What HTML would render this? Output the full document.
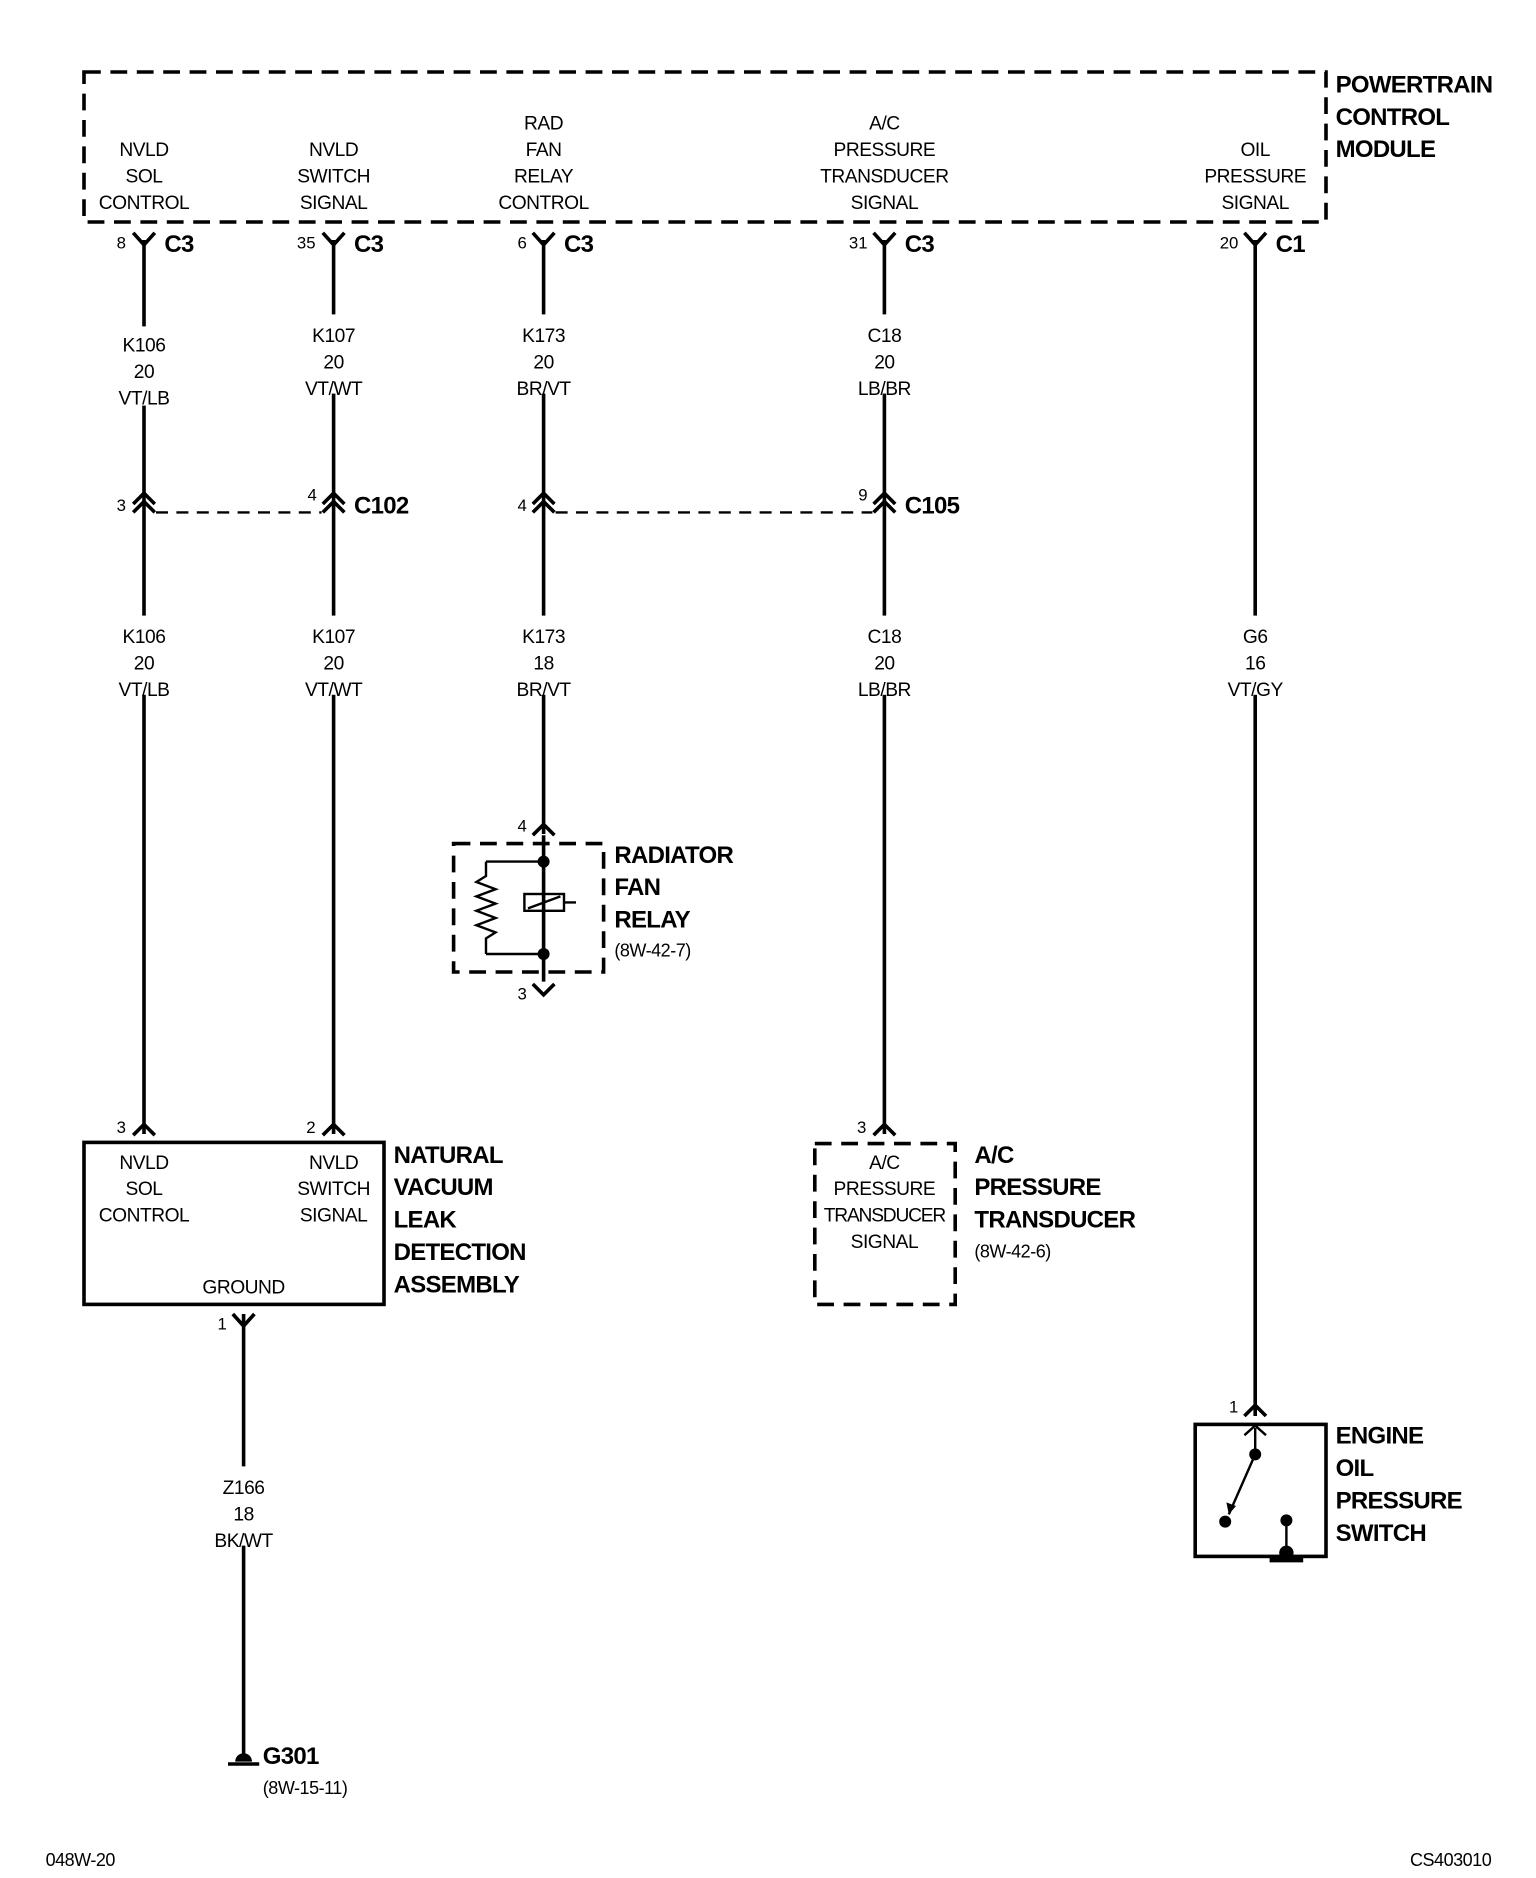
<!DOCTYPE html>
<html><head><meta charset="utf-8"><style>
html,body{margin:0;padding:0;background:#fff}
svg{display:block}
text{font-family:"Liberation Sans",sans-serif;fill:#000}
.s{font-size:16px;text-anchor:middle;letter-spacing:-0.4px}
.p{font-size:14px;text-anchor:end}
.b{font-size:20px;font-weight:bold;letter-spacing:-0.6px}
</style></head><body>
<svg width="1536" height="1878" viewBox="0 0 1280 1565" xmlns="http://www.w3.org/2000/svg">
<g fill="none" stroke="#000" stroke-width="3">
<rect x="70" y="60" width="1035" height="125" stroke-dasharray="14,8"/>
<path d="M120 200V945M278 200V945M453 200V695M737 200V945M1046 200V1180M203 1095V1462"/>
<path d="M111 194L120 204L129 194M269 194L278 204L287 194M444 194L453 204L462 194M728 194L737 204L746 194M1037 194L1046 204L1055 194"/>
<path d="M111 420L120 411L129 420M111 427L120 418L129 427M269 420L278 411L287 420M269 427L278 418L287 427M444 420L453 411L462 420M444 427L453 418L462 427M728 420L737 411L746 420M728 427L737 418L746 427"/>
<path d="M130 427H268M463 427H727" stroke-width="2" stroke-dasharray="10,7"/>
<path d="M444 696L453 687L462 696"/>
<rect x="378" y="703" width="125" height="107" stroke-dasharray="14,8"/>
<path d="M453 696V818M444 820L453 829L462 820"/>
<path d="M405 718H453M405 795H453M405 718V730L397 735L413 741L397 747L413 753L397 759L413 765L397 771L413 777L405 782V795" stroke-width="2"/>
<rect x="437" y="745" width="33" height="14" stroke-width="2"/>
<path d="M440 757L467 747M470 752H480" stroke-width="2"/>
<path d="M111 946L120 937L129 946M269 946L278 937L287 946"/>
<rect x="70" y="952" width="250" height="135"/>
<path d="M194 1095L203 1105L212 1095"/>
<path d="M190 1470H216" stroke-width="3"/>
<path d="M728 946L737 937L746 946"/>
<rect x="679" y="953" width="117" height="134" stroke-dasharray="14,8"/>
<path d="M1037 1180L1046 1171L1055 1180"/>
<rect x="996" y="1187" width="109" height="110"/>
<path d="M1037 1196L1046 1188L1055 1196M1046 1190V1212M1046 1212L1024 1262M1072 1267V1297" stroke-width="2"/>
<path d="M1058 1300H1086" stroke-width="4"/>
</g>
<g fill="#000">
<circle cx="453" cy="718" r="5"/><circle cx="453" cy="795" r="5"/>
<circle cx="1046" cy="1212" r="5"/><circle cx="1021" cy="1268" r="5"/><circle cx="1072" cy="1267" r="5"/>
<circle cx="1072" cy="1294" r="6"/>
<path d="M1024 1262l-2 -10l8 3z"/>
<path d="M196 1468a7 7 0 0 1 14 0z"/>
</g>
<g fill="#fff">
<rect x="95" y="272" width="50" height="66"/><rect x="253" y="262" width="50" height="66"/><rect x="428" y="262" width="50" height="66"/><rect x="712" y="262" width="50" height="66"/>
<rect x="95" y="513" width="50" height="66"/><rect x="253" y="513" width="50" height="66"/><rect x="428" y="513" width="50" height="66"/><rect x="712" y="513" width="50" height="66"/><rect x="1021" y="513" width="50" height="66"/>
<rect x="178" y="1222" width="50" height="66"/>
</g>
<g class="s">
<text x="120" y="130">NVLD</text><text x="120" y="152">SOL</text><text x="120" y="174">CONTROL</text>
<text x="278" y="130">NVLD</text><text x="278" y="152">SWITCH</text><text x="278" y="174">SIGNAL</text>
<text x="453" y="108">RAD</text><text x="453" y="130">FAN</text><text x="453" y="152">RELAY</text><text x="453" y="174">CONTROL</text>
<text x="737" y="108">A/C</text><text x="737" y="130">PRESSURE</text><text x="737" y="152">TRANSDUCER</text><text x="737" y="174">SIGNAL</text>
<text x="1046" y="130">OIL</text><text x="1046" y="152">PRESSURE</text><text x="1046" y="174">SIGNAL</text>
<text x="120" y="293">K106</text><text x="120" y="315">20</text><text x="120" y="337">VT/LB</text>
<text x="278" y="285">K107</text><text x="278" y="307">20</text><text x="278" y="329">VT/WT</text>
<text x="453" y="285">K173</text><text x="453" y="307">20</text><text x="453" y="329">BR/VT</text>
<text x="737" y="285">C18</text><text x="737" y="307">20</text><text x="737" y="329">LB/BR</text>
<text x="120" y="536">K106</text><text x="120" y="558">20</text><text x="120" y="580">VT/LB</text>
<text x="278" y="536">K107</text><text x="278" y="558">20</text><text x="278" y="580">VT/WT</text>
<text x="453" y="536">K173</text><text x="453" y="558">18</text><text x="453" y="580">BR/VT</text>
<text x="737" y="536">C18</text><text x="737" y="558">20</text><text x="737" y="580">LB/BR</text>
<text x="1046" y="536">G6</text><text x="1046" y="558">16</text><text x="1046" y="580">VT/GY</text>
<text x="120" y="974">NVLD</text><text x="120" y="996">SOL</text><text x="120" y="1018">CONTROL</text>
<text x="278" y="974">NVLD</text><text x="278" y="996">SWITCH</text><text x="278" y="1018">SIGNAL</text>
<text x="203" y="1078">GROUND</text>
<text x="737" y="974">A/C</text><text x="737" y="996">PRESSURE</text><text x="737" y="1018" style="letter-spacing:-1px">TRANSDUCER</text><text x="737" y="1040">SIGNAL</text>
<text x="203" y="1245">Z166</text><text x="203" y="1267">18</text><text x="203" y="1289">BK/WT</text>
</g>
<g class="p">
<text x="105" y="207">8</text><text x="263" y="207">35</text><text x="439" y="207">6</text><text x="723" y="207">31</text><text x="1032" y="207">20</text>
<text x="105" y="426">3</text><text x="264" y="417">4</text><text x="439" y="426">4</text><text x="723" y="417">9</text>
<text x="439" y="693">4</text><text x="439" y="833">3</text>
<text x="105" y="944">3</text><text x="263" y="944">2</text><text x="189" y="1108">1</text>
<text x="722" y="944">3</text><text x="1032" y="1177">1</text>
</g>
<g class="b">
<text x="1113" y="77">POWERTRAIN</text><text x="1113" y="104">CONTROL</text><text x="1113" y="131">MODULE</text>
<text x="137" y="210">C3</text><text x="295" y="210">C3</text><text x="470" y="210">C3</text><text x="754" y="210">C3</text><text x="1063" y="210">C1</text>
<text x="295" y="428">C102</text><text x="754" y="428">C105</text>
<text x="512" y="719">RADIATOR</text><text x="512" y="746">FAN</text><text x="512" y="773">RELAY</text>
<text x="328" y="969">NATURAL</text><text x="328" y="996">VACUUM</text><text x="328" y="1023">LEAK</text><text x="328" y="1050">DETECTION</text><text x="328" y="1077">ASSEMBLY</text>
<text x="812" y="969">A/C</text><text x="812" y="996">PRESSURE</text><text x="812" y="1023">TRANSDUCER</text>
<text x="1113" y="1203">ENGINE</text><text x="1113" y="1230">OIL</text><text x="1113" y="1257">PRESSURE</text><text x="1113" y="1284">SWITCH</text>
<text x="219" y="1470">G301</text>
</g>
<g style="font-size:15px;letter-spacing:-0.4px">
<text x="512" y="797">(8W-42-7)</text>
<text x="812" y="1048">(8W-42-6)</text>
<text x="219" y="1495">(8W-15-11)</text>
<text x="38" y="1555">048W-20</text>
<text x="1175" y="1555">CS403010</text>
</g>
</svg>
</body></html>
